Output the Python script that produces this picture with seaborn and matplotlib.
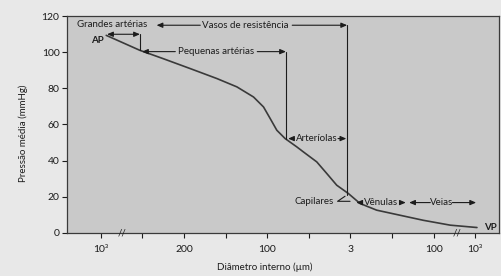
import matplotlib
matplotlib.use("Agg")
import matplotlib.pyplot as plt
import seaborn as sns

# --- data (x = tick position on the broken axis) ---
diam_pos = [0.13, 0.94, 1.50, 2.15, 2.79, 3.27, 3.67, 3.91, 4.07, 4.23, 4.43,
            4.71, 4.87, 5.19, 5.43, 5.67, 5.95, 6.23, 6.63, 7.19, 7.75, 8.4, 9.04]
pressure = [109.3, 101, 96.4, 90.9, 85.4, 80.8, 75.2, 69.7, 63.3, 56.8, 52.2,
            47.6, 44.8, 39.3, 32.9, 26.4, 21.8, 16.3, 12.6, 9.8, 7.0, 4.3, 3.0]

tick_pos = list(range(10))
tick_labels = ["10³", "", "200", "", "100", "", "3", "", "100", "10³"]
y_ticks = [0, 20, 40, 60, 80, 100, 120]

sns.set_style("ticks")
plt.rcParams["font.family"] = ["Lato", "DejaVu Sans"]

ink = "#1c1c1c"
fig = plt.figure(figsize=(5.01, 2.76), dpi=100, facecolor="#e8e8e8")
ax = fig.add_axes([0.134, 0.156, 0.862, 0.786])
ax.set_facecolor("#c9c9c9")

sns.lineplot(x=diam_pos, y=pressure, ax=ax, color="#3a3a3a", linewidth=1.2)
ax.lines[0].set_solid_joinstyle("round")

ax.set_xlim(-0.81, 9.57)
ax.set_ylim(0, 120)
ax.set_xticks(tick_pos)
ax.set_xticklabels(tick_labels)
ax.set_yticks(y_ticks)
ax.tick_params(axis="both", direction="out", length=3.5, width=0.8,
               colors=ink, labelsize=7.5)
ax.tick_params(axis="x", pad=5)
ax.tick_params(axis="y", pad=2)
for s in ax.spines.values():
    s.set_color("#3a3a3a")
    s.set_linewidth(0.9)

ax.set_xlabel("Diâmetro interno (µm)", fontsize=7, color=ink)
ax.set_ylabel("Pressão média (mmHg)", fontsize=7, color=ink)
ax.xaxis.set_label_coords(0.458, -0.135)
ax.yaxis.set_label_coords(-0.09, 0.458)

# axis break marks
for bx in (0.5, 8.56):
    ax.text(bx, 0, "//", ha="center", va="center", fontsize=7, color=ink,
            clip_on=False)

fs = 7
arw = dict(arrowstyle="-|>,head_length=0.35,head_width=0.15", color=ink, lw=0.8,
           shrinkA=0, shrinkB=0)
ln = dict(color=ink, lw=0.8)

def arrow(x0, x1, y):
    ax.annotate("", xy=(x1, y), xytext=(x0, y), arrowprops=arw)

# Grandes artérias / Vasos de resistência
ax.text(-0.57, 115.2, "Grandes artérias", fontsize=fs, color=ink, ha="left", va="center")
arrow(2.39, 1.34, 114.9)
ax.text(3.48, 114.9, "Vasos de resistência", fontsize=fs, color=ink, ha="center", va="center")
arrow(4.6, 5.92, 114.9)
ax.plot([5.92, 5.92], [114.9, 21.0], **ln)

# AP
ax.text(-0.09, 106.2, "AP", fontsize=fs, color=ink, ha="center", va="center", weight="bold")
ax.annotate("", xy=(0.15, 109.9), xytext=(0.94, 109.9),
            arrowprops=dict(arrowstyle="<|-|>,head_length=0.35,head_width=0.15",
                            color=ink, lw=0.8, shrinkA=0, shrinkB=0))
ax.plot([0.94, 0.94], [109.9, 101], **ln)

# Pequenas artérias
arrow(1.79, 0.99, 100.3)
ax.text(2.77, 100.3, "Pequenas artérias", fontsize=fs, color=ink, ha="center", va="center")
arrow(3.76, 4.45, 100.3)
ax.plot([4.45, 4.45], [100.3, 52.2], **ln)

# Arteríolas
arrow(4.65, 4.5, 52.2)
ax.text(5.18, 52.2, "Arteríolas", fontsize=fs, color=ink, ha="center", va="center")
arrow(5.7, 5.9, 52.2)

# Capilares
ax.text(5.59, 17.3, "Capilares", fontsize=fs, color=ink, ha="right", va="center")
ax.plot([5.87, 5.69, 5.99], [20.3, 17.5, 17.5], **ln)

# Vênulas / Veias
arrow(6.29, 6.14, 16.8)
ax.text(6.74, 16.8, "Vênulas", fontsize=fs, color=ink, ha="center", va="center")
arrow(7.2, 7.33, 16.8)
arrow(7.92, 7.41, 16.8)
ax.text(8.18, 16.8, "Veias", fontsize=fs, color=ink, ha="center", va="center")
arrow(8.45, 9.02, 16.8)

ax.text(9.36, 3.1, "VP", fontsize=fs, color=ink, ha="center", va="center", weight="bold")

fig.savefig("out.png", dpi=100, facecolor=fig.get_facecolor())
